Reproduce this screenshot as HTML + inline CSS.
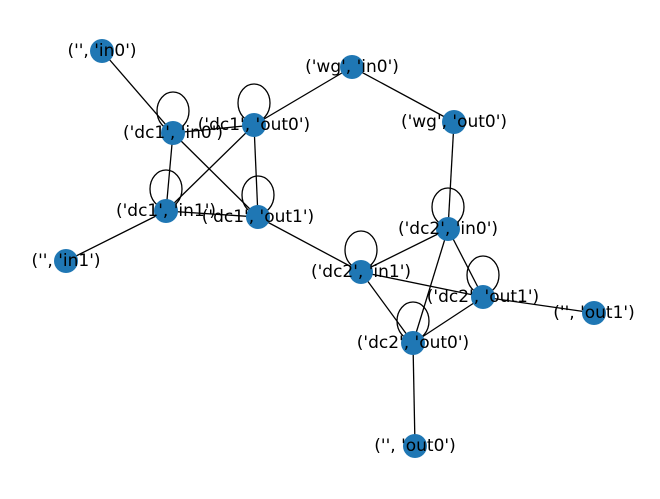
<!DOCTYPE html>
<html><head><meta charset="utf-8"><style>html,body{margin:0;padding:0;background:#fff}svg{display:block}</style></head>
<body>
<svg width="660" height="499" viewBox="0 0 660 499" xmlns="http://www.w3.org/2000/svg">
<g stroke="#000" stroke-width="1.3" fill="none">
<ellipse cx="173" cy="111" rx="16" ry="19"/>
<ellipse cx="254" cy="103" rx="16" ry="19"/>
<ellipse cx="166" cy="189" rx="16" ry="19"/>
<ellipse cx="258" cy="195" rx="16" ry="19"/>
<ellipse cx="448" cy="207" rx="16" ry="19"/>
<ellipse cx="361" cy="250" rx="16" ry="19"/>
<ellipse cx="483" cy="275" rx="16" ry="19"/>
<ellipse cx="413" cy="321" rx="16" ry="19"/>
<line x1="102" y1="51" x2="173" y2="133"/>
<line x1="173" y1="133" x2="254" y2="125"/>
<line x1="173" y1="133" x2="166" y2="211"/>
<line x1="173" y1="133" x2="258" y2="217"/>
<line x1="254" y1="125" x2="166" y2="211"/>
<line x1="254" y1="125" x2="258" y2="217"/>
<line x1="166" y1="211" x2="258" y2="217"/>
<line x1="166" y1="211" x2="66" y2="261"/>
<line x1="254" y1="125" x2="352" y2="67"/>
<line x1="352" y1="67" x2="454" y2="122"/>
<line x1="454" y1="122" x2="448" y2="229"/>
<line x1="258" y1="217" x2="361" y2="272"/>
<line x1="361" y1="272" x2="448" y2="229"/>
<line x1="361" y1="272" x2="483" y2="297"/>
<line x1="361" y1="272" x2="413" y2="343"/>
<line x1="448" y1="229" x2="483" y2="297"/>
<line x1="448" y1="229" x2="413" y2="343"/>
<line x1="413" y1="343" x2="483" y2="297"/>
<line x1="483" y1="297" x2="594" y2="313"/>
<line x1="413" y1="343" x2="415" y2="446"/>
</g>
<g fill="#1f77b4">
<circle cx="102" cy="51" r="12"/>
<circle cx="352" cy="67" r="12"/>
<circle cx="173" cy="133" r="12"/>
<circle cx="254" cy="125" r="12"/>
<circle cx="454" cy="122" r="12"/>
<circle cx="166" cy="211" r="12"/>
<circle cx="258" cy="217" r="12"/>
<circle cx="66" cy="261" r="12"/>
<circle cx="448" cy="229" r="12"/>
<circle cx="361" cy="272" r="12"/>
<circle cx="483" cy="297" r="12"/>
<circle cx="594" cy="313" r="12"/>
<circle cx="413" cy="343" r="12"/>
<circle cx="415" cy="446" r="12"/>
</g>
<g font-family="DejaVu Sans, sans-serif" font-size="17" fill="#000" text-anchor="middle" dominant-baseline="central">
<text x="102" y="51">('', 'in0')</text>
<text x="352" y="67">('wg', 'in0')</text>
<text x="173" y="133">('dc1', 'in0')</text>
<text x="254" y="125">('dc1', 'out0')</text>
<text x="454" y="122">('wg', 'out0')</text>
<text x="166" y="211">('dc1', 'in1')</text>
<text x="258" y="217">('dc1', 'out1')</text>
<text x="66" y="261">('', 'in1')</text>
<text x="448" y="229">('dc2', 'in0')</text>
<text x="361" y="272">('dc2', 'in1')</text>
<text x="483" y="297">('dc2', 'out1')</text>
<text x="594" y="313">('', 'out1')</text>
<text x="413" y="343">('dc2', 'out0')</text>
<text x="415" y="446">('', 'out0')</text>
</g>
</svg>
</body></html>
